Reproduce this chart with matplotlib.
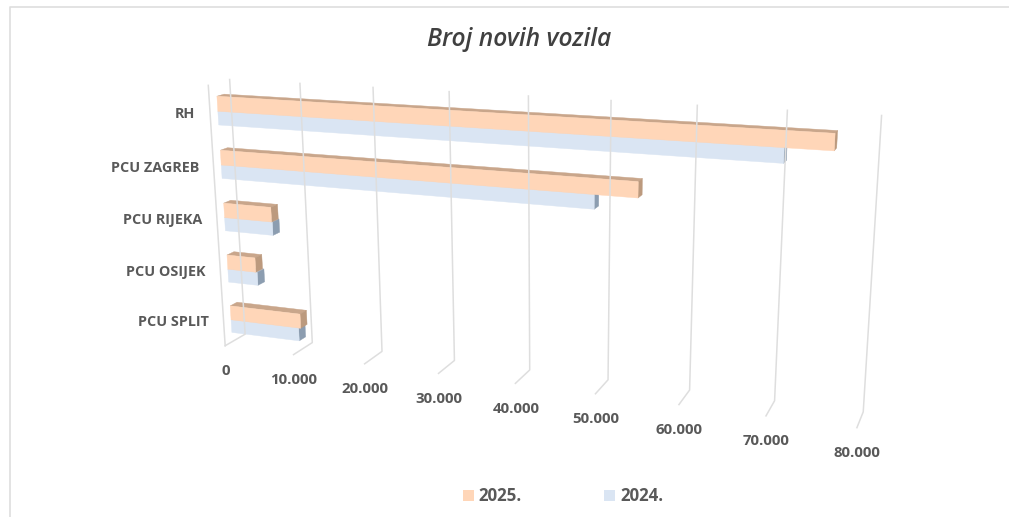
import numpy as np
import matplotlib
matplotlib.use('Agg')
import matplotlib.pyplot as plt
from matplotlib.patches import Polygon, Rectangle

categories = ['RH', 'PCU ZAGREB', 'PCU RIJEKA', 'PCU OSIJEK', 'PCU SPLIT']
values_2025 = [75700, 54250, 6800, 4100, 10200]
values_2024 = [70400, 49100, 6900, 4300, 9900]
ticks = [0, 10000, 20000, 30000, 40000, 50000, 60000, 70000, 80000]
tick_labels = ['0', '10.000', '20.000', '30.000', '40.000', '50.000', '60.000', '70.000', '80.000']
series = ['2025.', '2024.']

# Excel 3-D look: camera fitted to where the walls and floor sit in the picture
# (value, category position, depth) -> pixel
calib = [
    (0, 5, 0, 230, 80), (10000, 5, 0, 300, 83), (20000, 5, 0, 373, 88), (30000, 5, 0, 449, 92),
    (70000, 5, 0, 787, 110), (80000, 5, 0, 882, 115),
    (0, 0, 0, 243, 333), (10000, 0, 0, 313, 343), (20000, 0, 0, 383, 351), (30000, 0, 0, 455, 361),
    (60000, 0, 0, 690, 390), (70000, 0, 0, 774, 401), (80000, 0, 0, 863, 412),
    (0, 0, 1, 226, 346), (10000, 0, 1, 294, 355), (20000, 0, 1, 364, 364), (30000, 0, 1, 438, 373),
    (60000, 0, 1, 679, 404), (70000, 0, 1, 766, 416), (80000, 0, 1, 857, 428),
    (0, 5, 1, 208, 85),
]


def fit_camera(points):
    rows = []
    for v, c, d, px, py in points:
        X = [v / 80000, c, d, 1]
        rows.append(X + [0, 0, 0, 0] + [-px * a for a in X])
        rows.append([0, 0, 0, 0] + X + [-py * a for a in X])
    _, _, vt = np.linalg.svd(np.array(rows, dtype=float))
    return vt[-1].reshape(3, 4)


P = fit_camera(calib)


def project(v, c, d):
    p = P @ np.array([v / 80000, c, d, 1.0])
    return p[0] / p[2], p[1] / p[2]


def box(ax, v, c0, c1, d0, d1, front, top, side):
    # top and end faces first, then the front
    ax.add_patch(Polygon([project(0, c1, d1), project(v, c1, d1), project(v, c1, d0), project(0, c1, d0)],
                         closed=True, fc=top, ec=top, lw=0.3))
    ax.add_patch(Polygon([project(v, c0, d1), project(v, c1, d1), project(v, c1, d0), project(v, c0, d0)],
                         closed=True, fc=side, ec=side, lw=0.3))
    ax.add_patch(Polygon([project(0, c0, d1), project(v, c0, d1), project(v, c1, d1), project(0, c1, d1)],
                         closed=True, fc=front, ec=front, lw=0.3))


fig = plt.figure(figsize=(10.09, 5.17), dpi=100)
ax = fig.add_axes([0, 0, 1, 1])
ax.set_xlim(0, 1009)
ax.set_ylim(517, 0)
ax.axis('off')

plt.rcParams['font.family'] = ['Open Sans', 'DejaVu Sans']
grid = '#DEDEDE'
label_col = '#595959'

# chart frame
ax.plot([10, 10, 1009], [517, 7, 7], color=grid, lw=1.2)

# gridlines on back wall and floor
for t, lab in zip(ticks, tick_labels):
    pts = [project(t, 5, 0), project(t, 0, 0), project(t, 0, 1)]
    ax.plot([p[0] for p in pts], [p[1] for p in pts], color=grid, lw=1.1)
    x, y = project(t, 0, 1)
    ax.text(x + 0.5, y + 25.5, lab, ha='center', va='center', fontsize=10.8, fontweight='bold', color=label_col)
pts = [project(0, 0, 1), project(0, 5, 1)]
ax.plot([p[0] for p in pts], [p[1] for p in pts], color=grid, lw=1.1)

# bars
d_back, d_front = 0.30, 0.64
for i, cat in enumerate(categories):
    c = 4.48 - i * 1.01
    box(ax, values_2024[i], c - 0.255, c, d_back, d_front, '#DAE5F3', '#C4CEDA', '#8C9DB0')
    box(ax, values_2025[i], c, c + 0.28, d_back, d_front, '#FFD6B8', '#C9A68B', '#BC9A7E')
    x, y = project(0, 4.5 - i, 1)
    ax.text(x - 14.5, y + 1.5, cat, ha='right', va='center', fontsize=10.4, fontweight='bold', color=label_col)

ax.text(519, 40, 'Broj novih vozila', ha='center', va='center', fontsize=17.7, fontstyle='italic',
        fontweight='semibold', color='#404040')

# legend
ax.add_patch(Rectangle((463, 490), 11, 11, fc='#FFD6B8', ec='none'))
ax.text(478, 496, series[0], ha='left', va='center', fontsize=12.2, fontweight='bold', color=label_col)
ax.add_patch(Rectangle((604, 490), 11, 11, fc='#DAE5F3', ec='none'))
ax.text(620, 496, series[1], ha='left', va='center', fontsize=12.2, fontweight='bold', color=label_col)

fig.savefig('out.png', dpi=100)
